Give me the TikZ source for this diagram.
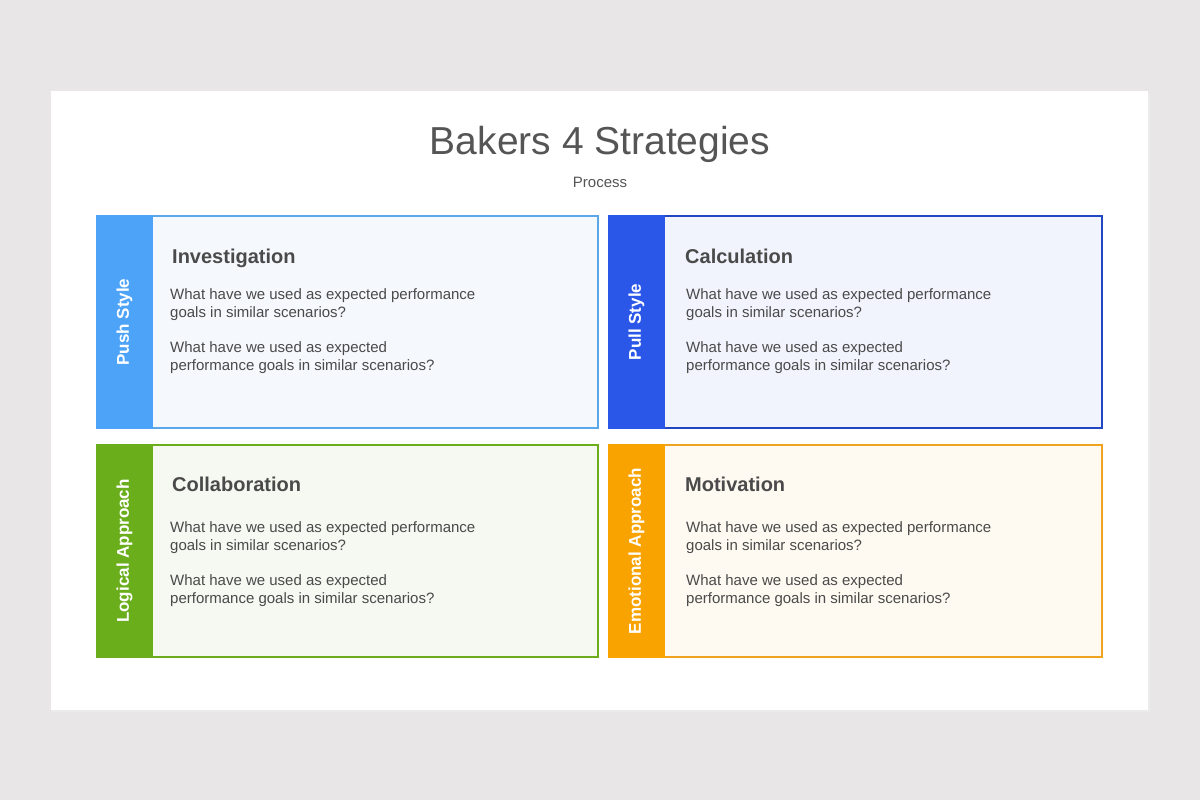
\documentclass[tikz,border=0pt]{standalone}
\usepackage{fontspec}
\setmainfont{Liberation Sans}
\definecolor{bgc}{HTML}{E8E6E7}
\definecolor{txt}{HTML}{4A4A4A}
\definecolor{ttl}{HTML}{555555}
\definecolor{barA}{HTML}{4DA3F8}
\definecolor{brdA}{HTML}{5AA7EA}
\definecolor{filA}{HTML}{F5F8FD}
\definecolor{barB}{HTML}{2B57E8}
\definecolor{brdB}{HTML}{2347C2}
\definecolor{filB}{HTML}{F1F4FD}
\definecolor{barC}{HTML}{6AAE1C}
\definecolor{brdC}{HTML}{6AAE1C}
\definecolor{filC}{HTML}{F6F8F2}
\definecolor{barD}{HTML}{F8A300}
\definecolor{brdD}{HTML}{F0A31E}
\definecolor{filD}{HTML}{FEF9F1}
\tikzset{
  quad/.style={draw=#1, line width=2.4pt, inner sep=0pt, outer sep=0pt, anchor=north west},
  sidebar/.style={fill=#1, draw=none, inner sep=0pt, outer sep=0pt, anchor=north west, minimum width=57pt, minimum height=214pt},
  sidelabel/.style={rotate=90, text=white, font=\fontsize{17}{20}\selectfont\bfseries, inner sep=0pt},
  heading/.style={anchor=base west, text=txt, font=\fontsize{20}{24}\selectfont\bfseries, inner sep=0pt},
  para/.style={anchor=north west, align=left, text=txt, font=\fontsize{15}{18}\selectfont, inner sep=0pt},
}
\begin{document}
\begin{tikzpicture}[x=1pt,y=-1pt]
\useasboundingbox (0,0) rectangle (1200,800);
\fill[bgc] (0,0) rectangle (1200,800);
\fill[black!8] (52,93) rectangle (1150,712);
\node[fill=white, inner sep=0pt, outer sep=0pt, minimum width=1097pt, minimum height=619pt, anchor=north west] (card) at (51,91) {};
\node[text=ttl, font=\fontsize{39}{42}\selectfont, inner sep=0pt] (title) at (600,144) {Bakers 4 Strategies};
\node[text=ttl, font=\fontsize{15}{18}\selectfont, inner sep=0pt] (sub) at (600,182) {Process};

% Box A
\node[quad=brdA, fill=filA, minimum width=500.6pt, minimum height=211.6pt] (boxA) at (97.2,216.2) {};
\node[sidebar=barA] (barA) at (96,215) {};
\node[sidelabel] (labA) at (barA.center) {Push Style};
\node[heading] (hA) at (172,263) {Investigation};
\node[para] (pA1) at (170,288) {What have we used as expected performance\\goals in similar scenarios?};
\node[para] (pA2) at (170,341) {What have we used as expected\\performance goals in similar scenarios?};

% Box B
\node[quad=brdB, fill=filB, minimum width=492.6pt, minimum height=211.6pt] (boxB) at (609.2,216.2) {};
\node[sidebar=barB] (barB) at (608,215) {};
\node[sidelabel] (labB) at (barB.center) {Pull Style};
\node[heading] (hB) at (685,263) {Calculation};
\node[para] (pB1) at (686,288) {What have we used as expected performance\\goals in similar scenarios?};
\node[para] (pB2) at (686,341) {What have we used as expected\\performance goals in similar scenarios?};

% Box C
\node[quad=brdC, fill=filC, minimum width=500.6pt, minimum height=211.6pt] (boxC) at (97.2,445.2) {};
\node[sidebar=barC] (barC) at (96,444) {};
\node[sidelabel] (labC) at (barC.center) {Logical Approach};
\node[heading] (hC) at (172,491) {Collaboration};
\node[para] (pC1) at (170,521) {What have we used as expected performance\\goals in similar scenarios?};
\node[para] (pC2) at (170,574) {What have we used as expected\\performance goals in similar scenarios?};

% Box D
\node[quad=brdD, fill=filD, minimum width=492.6pt, minimum height=211.6pt] (boxD) at (609.2,445.2) {};
\node[sidebar=barD] (barD) at (608,444) {};
\node[sidelabel] (labD) at (barD.center) {Emotional Approach};
\node[heading] (hD) at (685,491) {Motivation};
\node[para] (pD1) at (686,521) {What have we used as expected performance\\goals in similar scenarios?};
\node[para] (pD2) at (686,574) {What have we used as expected\\performance goals in similar scenarios?};
\end{tikzpicture}
\end{document}
